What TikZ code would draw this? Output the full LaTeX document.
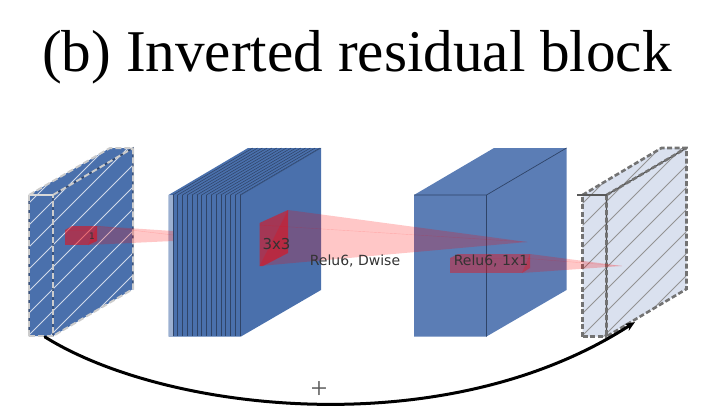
\documentclass[tikz,border=0pt]{standalone}
\usepackage{fontspec}
\setmainfont{Liberation Serif}
\newfontfamily\labelfont{DejaVu Sans}
\usetikzlibrary{arrows.meta}
\definecolor{blockA}{HTML}{4A70AC}
\definecolor{blockB}{HTML}{5B7DB5}
\definecolor{blockC}{HTML}{DAE1EF}
\definecolor{edgeB}{HTML}{2F4468}
\definecolor{labelgray}{HTML}{333333}
\tikzset{
  cone/.style={fill=red,fill opacity=.22,draw=none},
  redface/.style={fill=red,fill opacity=.5,draw=none},
  redfaint/.style={fill=red,fill opacity=.38,draw=none},
  lab/.style={font=\labelfont\fontsize{14}{14}\selectfont,text=labelgray,inner sep=0pt,anchor=center},
  hatchA/.style={draw=white!75!blockA,line width=.8pt},
  hatchC/.style={draw=gray!85,line width=.8pt},
  dashA/.style={draw=white!80!black,line width=2pt,dash pattern=on 6pt off 3pt},
  dashAdark/.style={draw=edgeB,line width=1.4pt},
  dashC/.style={draw=black!55,line width=2.6pt,dash pattern=on 5pt off 2.5pt},
}
\begin{document}
\begin{tikzpicture}[x=1pt,y=-1pt]
\useasboundingbox (0,0) rectangle (708,412);
\node[font=\fontsize{59.2}{62}\selectfont,inner sep=0pt,anchor=center] (title) at (357,57) {(b) Inverted residual block};

% Block 1
\fill[blockA] (29,195) -- (110,148) -- (133,148) -- (133,289) -- (53,336) -- (29,336) -- cycle;
\begin{scope}
\clip (29,195) -- (110,148) -- (133,148) -- (133,289) -- (53,336) -- (29,336) -- cycle;
\foreach \k in {-9,...,6} {
  \draw[hatchA] (\k*22+2,340) -- ++(230,-230);
}
\end{scope}
\draw[dashAdark] (29,336) -- (29,195) (53,195) -- (53,336) (53,195) -- (133,148) -- (133,289);
\draw[dashA] (29,336) -- (29,195) -- (53,195) -- (53,336) -- cycle;
\draw[dashA] (29,195) -- (110,148) -- (133,148) -- (133,289) -- (53,336);
\draw[dashA] (53,195) -- (133,148);
\draw[white!85!black,line width=1.4pt] (29,195) -- (53,195);

% Block 2
\fill[blockA] (168.5,195) -- (248,148) -- (321,148) -- (321,290) -- (241,336.5) -- (168.5,336.5) -- cycle;
\fill[blockA!55!white] (168.5,195) rectangle (173,336.5);
\foreach \k in {0,...,14} {
  \draw[edgeB,line width=.55pt] (172.8+\k*4.8,195) -- (172.8+\k*4.8,336);
  \draw[edgeB,line width=.55pt] (172.8+\k*4.8,195) -- (252.8+\k*4.8,148);
}
\draw[edgeB!70!blockA,line width=.4pt] (241,195) -- (321,148);

% Block 3
\fill[blockB] (414,195) -- (494,148) -- (566.5,148) -- (566.5,290) -- (486.5,336.5) -- (414,336.5) -- cycle;
\draw[edgeB,line width=.7pt] (414,195) -- (486.5,195) -- (486.5,336.5) (486.5,195) -- (566.5,148);

% Block 4
\fill[blockC] (582.5,195) -- (661.5,148) -- (686.5,148) -- (686.5,289) -- (606.5,336.5) -- (582.5,336.5) -- cycle;
\begin{scope}
\clip (582.5,195) -- (661.5,148) -- (686.5,148) -- (686.5,289) -- (606.5,336.5) -- (582.5,336.5) -- cycle;
\foreach \k in {-9,...,6} {
  \draw[hatchC] (\k*22+556,340) -- ++(230,-230);
}
\end{scope}
\draw[black!70,line width=1.2pt] (606.5,195) -- (606.5,336.5) (606.5,195) -- (686.5,148);
\draw[dashC] (582.5,336.5) -- (582.5,195) (582.5,336.5) -- (606.5,336.5);
\draw[dashC] (582.5,195) -- (661.5,148) -- (686.5,148) -- (686.5,289) -- (606.5,336.5);
\draw[dashC] (606.5,195) -- (686.5,148) (606.5,195) -- (606.5,336.5);
\draw[black!65,line width=1.6pt] (577,195) -- (606.5,195);

% Red selection in block 1
\fill[redface] (65,230) -- (72,226) -- (97,226) -- (88,230) -- cycle;
\fill[redface] (65,230) rectangle (88,245);
\fill[redface] (88,230) -- (97,226) -- (97,241) -- (88,245) -- cycle;
\fill[cone] (97,226) -- (173,231) -- (173,241) -- (88,245) -- cycle;
\draw[red,opacity=.15,line width=.4pt] (97,226) -- (173,235);

% Red selection in block 2
\fill[redface] (259.5,223) -- (288,210) -- (288,253) -- (263,266) -- (259.5,266) -- cycle;
\fill[cone] (288,210) -- (527,242) -- (259.5,266) -- cycle;
\draw[red,opacity=.15,line width=.4pt] (259.5,225) -- (527,242);

% Red selection in block 3
\fill[redfaint] (450,258) -- (458,254) -- (530,254) -- (522,258) -- cycle;
\fill[redfaint] (450,258) rectangle (522,273);
\fill[redfaint] (522,258) -- (530,254) -- (530,268) -- (522,273) -- cycle;
\fill[cone] (530,254) -- (622,266) -- (522,273) -- cycle;
\draw[red,opacity=.15,line width=.4pt] (522,258) -- (622,266);

% Labels
\node[lab,font=\labelfont\fontsize{9}{9}\selectfont] (one) at (92,236) {1};
\node[lab,font=\labelfont\fontsize{15}{15}\selectfont] (threebythree) at (276.5,244) {3x3};
\node[lab] (dwise) at (355,261) {Relu6, Dwise};
\node[lab] (oneone) at (491,261) {Relu6, 1x1};

% Skip connection
\coordinate (skipstart) at (45,337);
\coordinate (skipend) at (635,322);
\draw[-{Stealth[length=10pt,width=8pt]},line width=3pt,line cap=round] (skipstart) .. controls (165,412) and (445,445) .. (skipend);
\node[font=\fontsize{30}{30}\selectfont,text=black!65,inner sep=0pt] (plus) at (319,390) {+};
\end{tikzpicture}
\end{document}
